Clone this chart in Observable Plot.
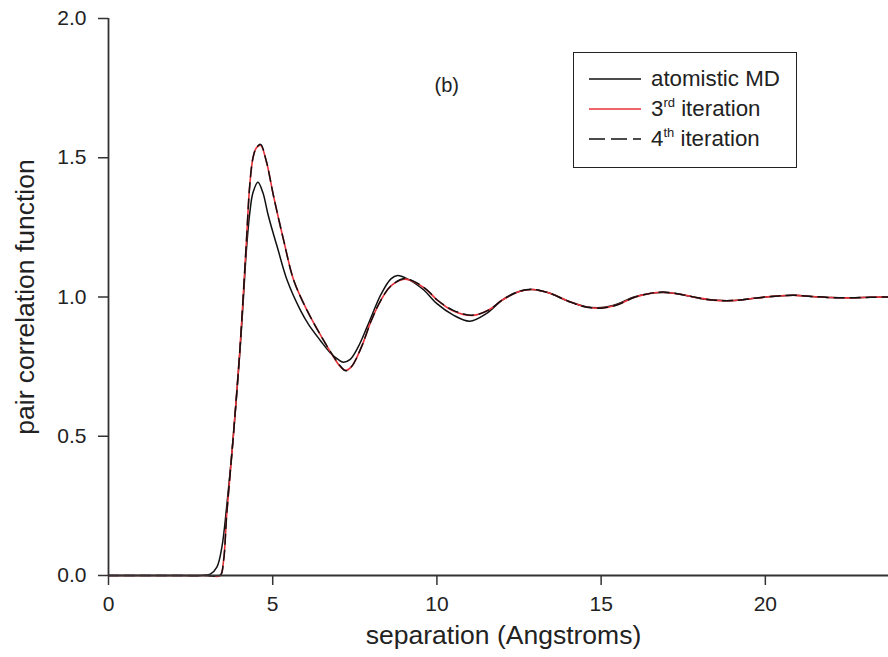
<!DOCTYPE html>
<html>
<head>
<meta charset="utf-8">
<script src="https://cdn.jsdelivr.net/npm/d3@7"></script>
<script src="https://cdn.jsdelivr.net/npm/@observablehq/plot@0.6"></script>
<style>
  html, body { margin: 0; padding: 0; background: #fff; }
  #wrap { position: relative; width: 888px; height: 657px; font-family: "Liberation Sans", Arial, sans-serif; }
  #legend { position: absolute; left: 573px; top: 52px; width: 222px; height: 114px; border: 1.5px solid #222; box-sizing: content-box; }
  .row { position: absolute; left: 0; height: 24px; display: flex; align-items: center; }
  .row svg { margin-left: 15px; }
  .row span { margin-left: 10px; font-size: 22.3px; color: #222; white-space: nowrap; }
  .row sup { font-size: 13px; vertical-align: 9px; line-height: 0; }
</style>
</head>
<body>
<div id="wrap"></div>
<script>
// ---- data ----
const mdX  = [0, 1, 2, 2.8, 3.1, 3.3, 3.45, 3.6, 3.8, 4.0, 4.1, 4.2, 4.3, 4.4, 4.55, 4.7, 4.85, 5.0, 5.15, 5.44, 5.85, 6.1, 6.45, 6.75, 7.0, 7.15, 7.35, 7.6, 7.9, 8.3, 8.6, 8.8, 9.1, 9.6, 10.0, 10.5, 11.0, 11.5, 12.0, 12.5, 12.9, 13.4, 14.0, 14.5, 15.0, 15.5, 16.0, 16.5, 16.9, 17.4, 18.0, 18.5, 19.0, 19.5, 20.0, 20.4, 20.9, 21.4, 22.0, 22.6, 23.2, 23.75];
const mdY  = [0, 0, 0, 0, 0.005, 0.03, 0.1, 0.25, 0.5, 0.8, 0.98, 1.17, 1.3, 1.375, 1.412, 1.375, 1.30, 1.235, 1.175, 1.06, 0.951, 0.9, 0.844, 0.8, 0.775, 0.766, 0.775, 0.82, 0.90, 1.01, 1.065, 1.077, 1.065, 1.025, 0.976, 0.935, 0.913, 0.94, 0.99, 1.02, 1.027, 1.015, 0.985, 0.966, 0.962, 0.975, 1.0, 1.013, 1.016, 1.01, 0.995, 0.988, 0.987, 0.993, 1.0, 1.004, 1.006, 1.002, 0.998, 0.997, 0.999, 1.0];

const it3X = [0, 1, 2, 3.0, 3.4, 3.5, 3.6, 3.8, 4.0, 4.1, 4.2, 4.3, 4.4, 4.5, 4.63, 4.8, 5.03, 5.34, 5.64, 6.05, 6.55, 6.85, 7.06, 7.22, 7.4, 7.7, 8.0, 8.3, 8.6, 9.0, 9.3, 9.7, 10.0, 10.5, 11.1, 11.6, 12.0, 12.5, 12.9, 13.4, 14.0, 14.5, 15.0, 15.5, 16.0, 16.5, 16.9, 17.4, 18.0, 18.5, 19.0, 19.5, 20.0, 20.4, 20.9, 21.4, 22.0, 22.6, 23.2, 23.75];
const it3Y = [0, 0, 0, 0, 0.0, 0.05, 0.22, 0.5, 0.81, 1.0, 1.2, 1.4, 1.5, 1.535, 1.545, 1.49, 1.36, 1.2, 1.06, 0.951, 0.844, 0.785, 0.75, 0.737, 0.75, 0.82, 0.915, 0.99, 1.04, 1.064, 1.055, 1.025, 0.99, 0.95, 0.934, 0.955, 0.99, 1.02, 1.027, 1.015, 0.985, 0.965, 0.96, 0.972, 0.998, 1.013, 1.017, 1.01, 0.996, 0.988, 0.987, 0.993, 1.0, 1.004, 1.006, 1.002, 0.998, 0.997, 0.999, 1.0];

const it4X = [0, 1, 2, 3.0, 3.4, 3.5, 3.6, 3.8, 4.0, 4.1, 4.2, 4.3, 4.4, 4.5, 4.63, 4.8, 5.03, 5.34, 5.64, 6.05, 6.55, 6.85, 7.06, 7.22, 7.4, 7.7, 8.0, 8.3, 8.6, 9.0, 9.3, 9.7, 10.0, 10.5, 11.1, 11.6, 12.0, 12.5, 12.9, 13.4, 14.0, 14.5, 15.0, 15.5, 16.0, 16.5, 16.9, 17.4, 18.0, 18.5, 19.0, 19.5, 20.0, 20.4, 20.9, 21.4, 22.0, 22.6, 23.2, 23.75];
const it4Y = [0, 0, 0, 0, 0.0, 0.05, 0.22, 0.5, 0.81, 1.0, 1.2, 1.4, 1.5, 1.535, 1.548, 1.49, 1.36, 1.2, 1.06, 0.951, 0.844, 0.787, 0.752, 0.735, 0.75, 0.82, 0.915, 0.99, 1.04, 1.066, 1.056, 1.025, 0.99, 0.952, 0.935, 0.955, 0.99, 1.02, 1.028, 1.015, 0.985, 0.965, 0.96, 0.972, 0.998, 1.013, 1.018, 1.01, 0.996, 0.988, 0.987, 0.993, 1.0, 1.004, 1.006, 1.002, 0.998, 0.997, 0.999, 1.0];

const xTicks = [0, 5, 10, 15, 20];
const yTicks = [0, 0.5, 1.0, 1.5, 2.0];
const xTitle = "separation (Angstroms)";
const yTitle = "pair correlation function";
const annotations = [{x: 10.3, y: 1.76, text: "(b)"}];
const seriesNames = ["atomistic MD", "3rd iteration", "4th iteration"];

// ---- build tables ----
const md  = mdX.map((x, i) => ({x, y: mdY[i]}));
const it3 = it3X.map((x, i) => ({x, y: it3Y[i]}));
const it4 = it4X.map((x, i) => ({x, y: it4Y[i]}));

const RED = "#e8323a";
const AX = "#333";

const chart = Plot.plot({
  width: 888,
  height: 657,
  marginLeft: 108,
  marginRight: 0,
  marginTop: 18,
  marginBottom: 82,
  style: {fontFamily: "'Liberation Sans', Arial, sans-serif", color: "#222", background: "#fff", overflow: "visible"},
  x: {domain: [0, 23.75]},
  y: {domain: [0, 2]},
  marks: [
    Plot.axisX({ticks: xTicks, tickSize: 10, tickPadding: 11, fontSize: 21, label: null, stroke: AX, strokeWidth: 1.5}),
    Plot.axisY({ticks: yTicks, tickSize: 10, tickPadding: 12, fontSize: 21, label: null, tickFormat: d3.format(".1f"), stroke: AX, strokeWidth: 1.5}),
    Plot.line(md,  {x: "x", y: "y", stroke: "#111", strokeWidth: 1.5, curve: "catmull-rom"}),
    Plot.line(it3, {x: "x", y: "y", stroke: RED, strokeWidth: 1.6, curve: "catmull-rom"}),
    Plot.line(it4, {x: "x", y: "y", stroke: "#111", strokeWidth: 1.5, strokeDasharray: "10,6", curve: "catmull-rom"}),
    Plot.ruleX([0], {stroke: AX, strokeWidth: 1.8}),
    Plot.ruleY([0], {stroke: AX, strokeWidth: 1.8}),
    Plot.text(annotations, {x: "x", y: "y", text: "text", fontSize: 20, fill: "#222"}),
    Plot.text([xTitle], {frameAnchor: "bottom", textAnchor: "middle", dx: 5, dy: 68, fontSize: 26.5, fill: "#222"}),
    Plot.text([yTitle], {frameAnchor: "left", textAnchor: "middle", dx: -83, rotate: -90, fontSize: 26.5, fill: "#222"})
  ]
});

const wrap = document.getElementById("wrap");
wrap.appendChild(chart);

// ---- legend (HTML overlay) ----
const legend = document.createElement("div");
legend.id = "legend";
const styles = [
  {stroke: "#111", dash: null},
  {stroke: RED, dash: null},
  {stroke: "#111", dash: "16,6"}
];
const labelsHTML = [
  seriesNames[0],
  seriesNames[1].replace(/^3rd/, "3<sup>rd</sup>"),
  seriesNames[2].replace(/^4th/, "4<sup>th</sup>")
];
const rowTops = [14, 44, 74];
styles.forEach((s, i) => {
  const row = document.createElement("div");
  row.className = "row";
  row.style.top = rowTops[i] + "px";
  row.innerHTML = `<svg width="52" height="4"><line x1="0" y1="2" x2="52" y2="2" stroke="${s.stroke}" stroke-width="1.6" ${s.dash ? `stroke-dasharray="${s.dash}"` : ""}/></svg><span>${labelsHTML[i]}</span>`;
  legend.appendChild(row);
});
wrap.appendChild(legend);
</script>
</body>
</html>
